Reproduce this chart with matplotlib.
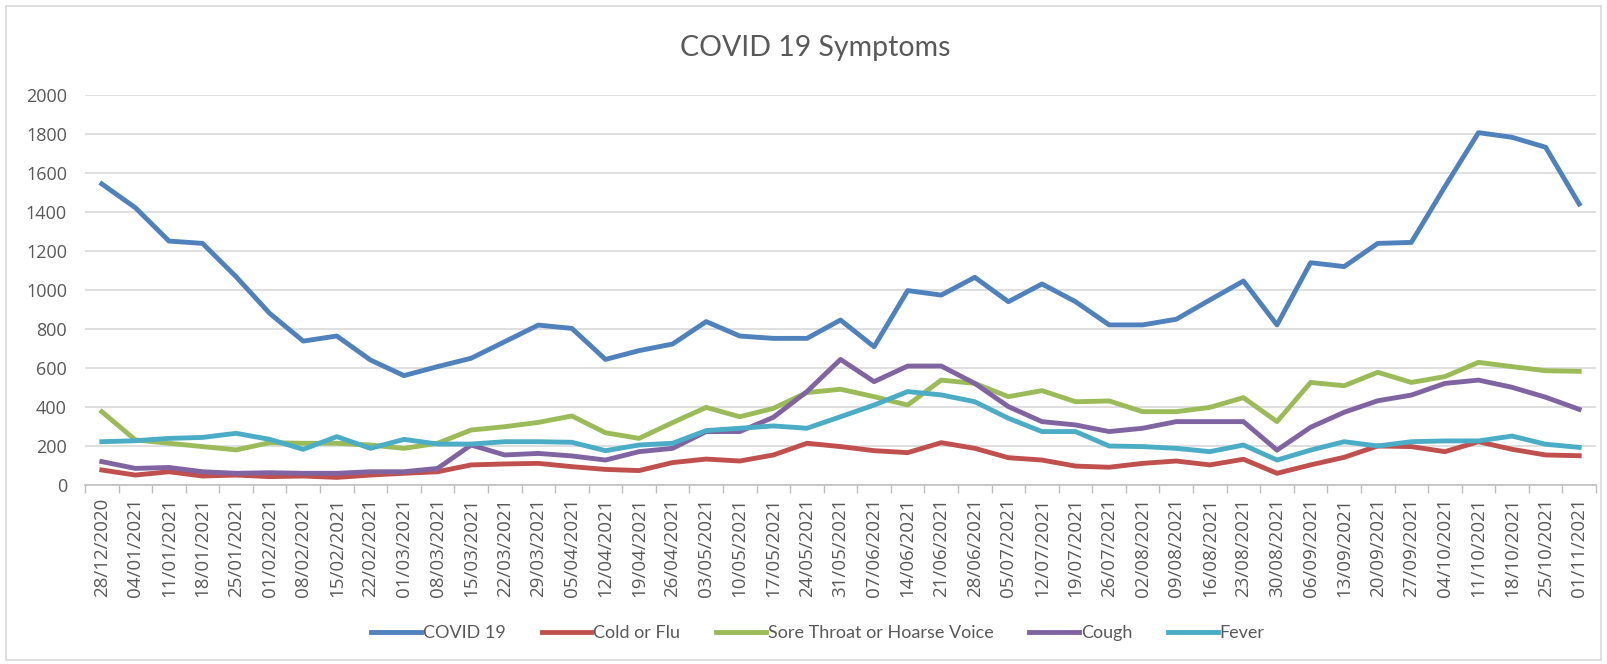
import matplotlib.pyplot as plt
from matplotlib.patches import Rectangle

dates = [
    "28/12/2020", "04/01/2021", "11/01/2021", "18/01/2021", "25/01/2021",
    "01/02/2021", "08/02/2021", "15/02/2021", "22/02/2021", "01/03/2021",
    "08/03/2021", "15/03/2021", "22/03/2021", "29/03/2021", "05/04/2021",
    "12/04/2021", "19/04/2021", "26/04/2021", "03/05/2021", "10/05/2021",
    "17/05/2021", "24/05/2021", "31/05/2021", "07/06/2021", "14/06/2021",
    "21/06/2021", "28/06/2021", "05/07/2021", "12/07/2021", "19/07/2021",
    "26/07/2021", "02/08/2021", "09/08/2021", "16/08/2021", "23/08/2021",
    "30/08/2021", "06/09/2021", "13/09/2021", "20/09/2021", "27/09/2021",
    "04/10/2021", "11/10/2021", "18/10/2021", "25/10/2021", "01/11/2021",
]

covid = [1544, 1422, 1251, 1239, 1068, 880, 738, 764, 641, 561, 607, 650, 735, 820,
         803, 644, 689, 723, 838, 764, 752, 752, 846, 709, 997, 974, 1065, 940, 1031, 940,
         821, 821, 850, 949, 1046, 821, 1140, 1120, 1239, 1244, 1530, 1807, 1783, 1732, 1441]
cold_flu = [77, 51, 68, 46, 51, 43, 46, 39, 51, 60, 68, 103, 108, 111,
            94, 80, 74, 115, 133, 123, 154, 214, 197, 176, 166, 217, 188, 140, 128, 97,
            91, 111, 123, 103, 132, 60, 103, 142, 200, 197, 171, 222, 183, 154, 150]
sore_throat = [376, 231, 214, 197, 180, 217, 214, 214, 205, 188, 214, 282, 299, 321,
               354, 268, 239, 320, 398, 350, 393, 474, 491, 453, 410, 538, 521, 453, 484, 427,
               431, 376, 376, 398, 448, 325, 526, 509, 578, 526, 556, 629, 607, 586, 583]
cough = [120, 85, 90, 68, 60, 63, 60, 60, 68, 68, 85, 205, 154, 162,
         149, 128, 171, 188, 274, 274, 347, 479, 644, 530, 610, 610, 521, 402, 325, 308,
         274, 291, 325, 325, 325, 179, 296, 373, 432, 461, 521, 538, 501, 450, 388]
fever = [222, 227, 239, 244, 265, 234, 183, 248, 188, 234, 210, 210, 222, 222,
         219, 176, 205, 214, 279, 291, 303, 291, 350, 410, 479, 462, 427, 342, 274, 274,
         200, 197, 188, 171, 205, 128, 179, 222, 200, 222, 226, 226, 251, 209, 193]

series = [
    ("COVID 19", covid, "#4F81BD"),
    ("Cold or Flu", cold_flu, "#C0504D"),
    ("Sore Throat or Hoarse Voice", sore_throat, "#9BBB59"),
    ("Cough", cough, "#8064A2"),
    ("Fever", fever, "#4BACC6"),
]

# ticks in Open Sans, title and legend in Lato
plt.rcParams["font.family"] = ["Open Sans", "DejaVu Sans"]
text_color = "#595959"
label_font = ["Lato", "DejaVu Sans"]

fig = plt.figure(figsize=(16.07, 6.64), dpi=100)
ax = fig.add_axes([85 / 1607, 1 - 485 / 664, 1511 / 1607, 390 / 664])

x = list(range(len(dates)))
for name, values, color in series:
    ax.plot(x, values, color=color, lw=3.5, label=name, solid_joinstyle="round")

ax.set_xlim(-0.5, len(dates) - 0.5)
ax.set_ylim(0, 2000)
ax.set_yticks(range(0, 2001, 200))
ax.grid(axis="y", color="#D9D9D9", lw=1.2)
ax.set_axisbelow(True)

ax.set_xticks(x)
ax.set_xticklabels(dates, rotation=90, fontsize=13.5, color=text_color)
ax.set_xticks([i - 0.5 for i in range(len(dates) + 1)], minor=True)
ax.tick_params(axis="x", which="major", length=0, pad=9)
ax.tick_params(axis="x", which="minor", length=6, color="#BFBFBF", width=1)
ax.tick_params(axis="y", length=0, labelsize=13, labelcolor=text_color, pad=13)

for side in ["top", "right", "left"]:
    ax.spines[side].set_visible(False)
ax.spines["bottom"].set_color("#BFBFBF")
ax.spines["bottom"].set_linewidth(1.2)

fig.suptitle("COVID 19 Symptoms", x=815 / 1607, y=1 - 48 / 664, va="center",
             fontsize=20.5, color=text_color, family=label_font)

fig.legend(loc="center", bbox_to_anchor=(818 / 1607, 1 - 633 / 664), ncol=5,
           frameon=False, handlelength=2.75, columnspacing=2.0,
           handletextpad=0.1, labelcolor=text_color,
           prop={"family": label_font, "size": 13})

fig.patches.append(Rectangle((6 / 1607, 4 / 664), 1 - 12 / 1607, 1 - 10 / 664,
                             transform=fig.transFigure, fill=False,
                             edgecolor="#D9D9D9", lw=1.2))

fig.savefig("out.png", dpi=100)
